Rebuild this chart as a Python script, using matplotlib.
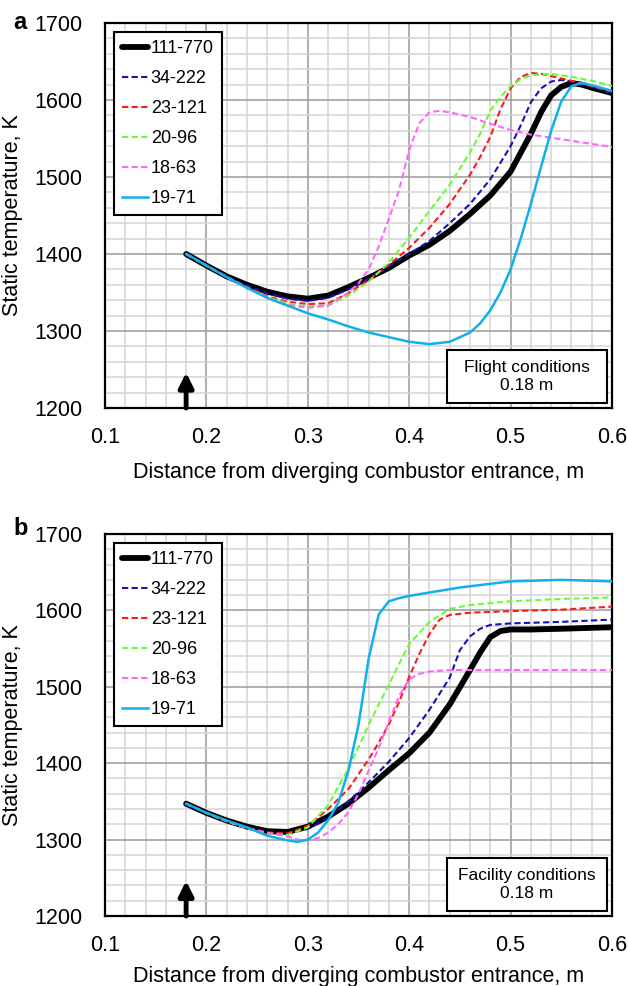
import numpy as np
import matplotlib
matplotlib.use('Agg')
import matplotlib.pyplot as plt
from matplotlib.patches import Rectangle

plt.rcParams['font.family'] = ['Liberation Sans', 'DejaVu Sans']

# series labels (H2 injection cases) and line styles
labels = ["111-770", "34-222", "23-121", "20-96", "18-63", "19-71"]
colors = ["#000000", "#1414b4", "#ff1a1a", "#66ff33", "#ff66ff", "#12b0ea"]

# ---- panel a: flight conditions ----
xa_111 = [0.18, 0.20, 0.22, 0.24, 0.26, 0.28, 0.30, 0.32, 0.34, 0.36, 0.38, 0.40, 0.42, 0.44,
          0.46, 0.48, 0.50, 0.52, 0.53, 0.54, 0.55, 0.56, 0.57, 0.58, 0.60]
Ta_111 = [1400, 1385, 1371, 1360, 1351, 1345, 1342, 1346, 1357, 1369, 1382, 1398, 1412, 1430,
          1452, 1476, 1507, 1556, 1584, 1606, 1617, 1622, 1620, 1616, 1609]
xa_34 = [0.18, 0.20, 0.22, 0.24, 0.26, 0.28, 0.30, 0.32, 0.34, 0.36, 0.38, 0.40, 0.42, 0.44,
         0.46, 0.48, 0.50, 0.51, 0.52, 0.53, 0.54, 0.55, 0.56, 0.58, 0.60]
Ta_34 = [1400, 1385, 1371, 1359, 1349, 1342, 1339, 1343, 1354, 1368, 1384, 1400, 1417, 1440,
         1465, 1497, 1540, 1567, 1597, 1615, 1624, 1626, 1624, 1617, 1609]
xa_23 = [0.18, 0.20, 0.22, 0.24, 0.26, 0.28, 0.30, 0.32, 0.34, 0.36, 0.38, 0.40, 0.42, 0.44,
         0.46, 0.47, 0.48, 0.49, 0.50, 0.51, 0.52, 0.53, 0.54, 0.56, 0.58, 0.60]
Ta_23 = [1400, 1385, 1370, 1357, 1345, 1338, 1335, 1336, 1349, 1366, 1386, 1408, 1434, 1465,
         1503, 1526, 1552, 1588, 1615, 1630, 1635, 1634, 1631, 1625, 1618, 1611]
xa_20 = [0.18, 0.20, 0.22, 0.24, 0.26, 0.28, 0.30, 0.32, 0.34, 0.36, 0.38, 0.40, 0.42, 0.44,
         0.46, 0.47, 0.48, 0.49, 0.50, 0.51, 0.52, 0.54, 0.56, 0.58, 0.60]
Ta_20 = [1400, 1385, 1370, 1356, 1344, 1336, 1332, 1333, 1346, 1364, 1389, 1421, 1456, 1490,
         1532, 1556, 1586, 1604, 1618, 1627, 1632, 1634, 1630, 1625, 1618]
xa_18 = [0.18, 0.20, 0.22, 0.24, 0.26, 0.28, 0.30, 0.32, 0.34, 0.35, 0.36, 0.37, 0.38, 0.39,
         0.40, 0.41, 0.42, 0.43, 0.44, 0.46, 0.48, 0.50, 0.52, 0.54, 0.56, 0.58, 0.60]
Ta_18 = [1400, 1385, 1370, 1356, 1343, 1334, 1330, 1333, 1350, 1362, 1380, 1410, 1446, 1483,
         1535, 1570, 1584, 1586, 1584, 1578, 1569, 1561, 1555, 1551, 1547, 1543, 1539]
xa_19 = [0.18, 0.20, 0.22, 0.24, 0.26, 0.28, 0.30, 0.32, 0.34, 0.36, 0.38, 0.40, 0.42, 0.44,
         0.46, 0.47, 0.48, 0.49, 0.50, 0.51, 0.52, 0.53, 0.54, 0.55, 0.56, 0.57, 0.58, 0.60]
Ta_19 = [1400, 1385, 1370, 1356, 1343, 1333, 1323, 1315, 1306, 1298, 1292, 1286, 1283, 1286,
         1298, 1310, 1327, 1350, 1380, 1420, 1465, 1513, 1560, 1598, 1618, 1622, 1619, 1612]

# ---- panel b: facility conditions ----
xb_111 = [0.18, 0.20, 0.22, 0.24, 0.26, 0.28, 0.30, 0.32, 0.34, 0.36, 0.38, 0.40, 0.42, 0.44,
          0.46, 0.47, 0.48, 0.49, 0.50, 0.52, 0.55, 0.60]
Tb_111 = [1347, 1335, 1325, 1317, 1311, 1310, 1317, 1330, 1347, 1368, 1391, 1413, 1440, 1477,
          1522, 1545, 1565, 1573, 1575, 1575, 1576, 1578]
xb_34 = [0.18, 0.20, 0.22, 0.24, 0.26, 0.28, 0.30, 0.32, 0.34, 0.36, 0.38, 0.40, 0.42, 0.44,
         0.45, 0.46, 0.47, 0.48, 0.50, 0.55, 0.60]
Tb_34 = [1347, 1335, 1325, 1316, 1310, 1308, 1314, 1328, 1350, 1375, 1402, 1433, 1470, 1512,
         1548, 1566, 1576, 1581, 1583, 1585, 1588]
xb_23 = [0.18, 0.20, 0.22, 0.24, 0.26, 0.28, 0.30, 0.32, 0.34, 0.36, 0.37, 0.38, 0.39, 0.40,
         0.41, 0.42, 0.43, 0.44, 0.46, 0.50, 0.55, 0.60]
Tb_23 = [1347, 1335, 1324, 1315, 1309, 1308, 1318, 1340, 1366, 1405, 1427, 1451, 1480, 1513,
         1543, 1569, 1588, 1594, 1597, 1599, 1601, 1605]
xb_20 = [0.18, 0.20, 0.22, 0.24, 0.26, 0.28, 0.30, 0.32, 0.34, 0.35, 0.36, 0.37, 0.38, 0.39,
         0.40, 0.42, 0.44, 0.46, 0.50, 0.55, 0.60]
Tb_20 = [1347, 1335, 1324, 1315, 1308, 1306, 1316, 1345, 1393, 1421, 1450, 1477, 1503, 1530,
         1556, 1585, 1602, 1607, 1612, 1615, 1617]
xb_18 = [0.18, 0.20, 0.22, 0.24, 0.26, 0.28, 0.29, 0.30, 0.31, 0.32, 0.33, 0.34, 0.35, 0.36,
         0.37, 0.38, 0.39, 0.40, 0.41, 0.42, 0.44, 0.50, 0.60]
Tb_18 = [1347, 1335, 1324, 1315, 1309, 1304, 1300, 1299, 1302, 1309, 1320, 1336, 1360, 1390,
         1420, 1455, 1488, 1510, 1517, 1520, 1522, 1522, 1522]
xb_19 = [0.18, 0.20, 0.22, 0.24, 0.26, 0.28, 0.29, 0.30, 0.31, 0.32, 0.33, 0.34, 0.35, 0.36,
         0.37, 0.38, 0.39, 0.40, 0.45, 0.50, 0.55, 0.60]
Tb_19 = [1347, 1335, 1325, 1316, 1305, 1299, 1297, 1300, 1309, 1325, 1348, 1390, 1450, 1537,
         1595, 1612, 1616, 1619, 1630, 1638, 1640, 1638]

series_a = [(xa_111, Ta_111), (xa_34, Ta_34), (xa_23, Ta_23),
            (xa_20, Ta_20), (xa_18, Ta_18), (xa_19, Ta_19)]
series_b = [(xb_111, Tb_111), (xb_34, Tb_34), (xb_23, Tb_23),
            (xb_20, Tb_20), (xb_18, Tb_18), (xb_19, Tb_19)]

injector_x = 0.18


def draw_panel(ax, series, box_text, xlabel_pad):
    ax.set_xlim(0.1, 0.6)
    ax.set_ylim(1200, 1700)
    ax.set_xticks(np.arange(0.1, 0.61, 0.1))
    ax.set_xticks(np.arange(0.1, 0.6, 0.02), minor=True)
    ax.set_yticks(np.arange(1200, 1701, 100))
    ax.set_yticks(np.arange(1200, 1700, 20), minor=True)
    ax.set_xticklabels(["0.1", "0.2", "0.3", "0.4", "0.5", "0.6"])
    ax.grid(which='minor', color='#d4d4d4', lw=1.1)
    ax.grid(which='major', color='#9a9a9a', lw=1.1)
    ax.set_axisbelow(True)
    ax.tick_params(which='both', length=0, labelsize=15.5)
    ax.tick_params(axis='x', pad=14)
    ax.tick_params(axis='y', pad=16)
    for sp in ax.spines.values():
        sp.set_linewidth(1.6)

    for i, ((x, T), lab, c) in enumerate(zip(series, labels, colors)):
        if i == 0:
            ax.plot(x, T, color=c, lw=4.2, label=lab, solid_capstyle='round', zorder=3)
        elif i == 5:
            ax.plot(x, T, color=c, lw=1.8, label=lab, zorder=4)
        else:
            ax.plot(x, T, color=c, lw=1.5, ls=(0, (3, 1.6)), label=lab, zorder=4)

    ax.annotate('', xy=(injector_x, 1246), xytext=(injector_x, 1200),
                arrowprops=dict(arrowstyle='-|>', color='k', lw=3.5,
                                mutation_scale=22, shrinkA=0, shrinkB=0), zorder=5)

    leg = ax.legend(loc='upper left', bbox_to_anchor=(0.017, 0.977), fontsize=13,
                    handlelength=1.45, handletextpad=0.15, labelspacing=0.72,
                    borderpad=0.45, fancybox=False, framealpha=1, borderaxespad=0)
    leg.get_frame().set_edgecolor('k')
    leg.get_frame().set_linewidth(1.5)

    ax.add_patch(Rectangle((0.675, 0.013), 0.315, 0.138, transform=ax.transAxes,
                           facecolor='white', edgecolor='k', lw=1.5, zorder=6))
    ax.text(0.8325, 0.082, box_text, transform=ax.transAxes, ha='center', va='center',
            fontsize=12.5, linespacing=1.3, zorder=7)

    ax.set_xlabel("Distance from diverging combustor entrance, m", fontsize=15.5,
                  labelpad=xlabel_pad)
    ax.set_ylabel("Static temperature, K", fontsize=15.5)
    ax.yaxis.set_label_coords(-0.162, 0.5)


fig = plt.figure(figsize=(6.28, 9.86), dpi=100)
ax_a = fig.add_axes([0.1672, 0.5862, 0.8073, 0.3905])
ax_b = fig.add_axes([0.1672, 0.0710, 0.8073, 0.3874])

draw_panel(ax_a, series_a, "Flight conditions\n0.18 m", 10)
draw_panel(ax_b, series_b, "Facility conditions\n0.18 m", 7)

fig.text(0.021, 0.977, "a", fontsize=17, fontweight='bold', ha='left', va='center')
fig.text(0.021, 0.464, "b", fontsize=17, fontweight='bold', ha='left', va='center')

fig.savefig("out.png", dpi=100)
